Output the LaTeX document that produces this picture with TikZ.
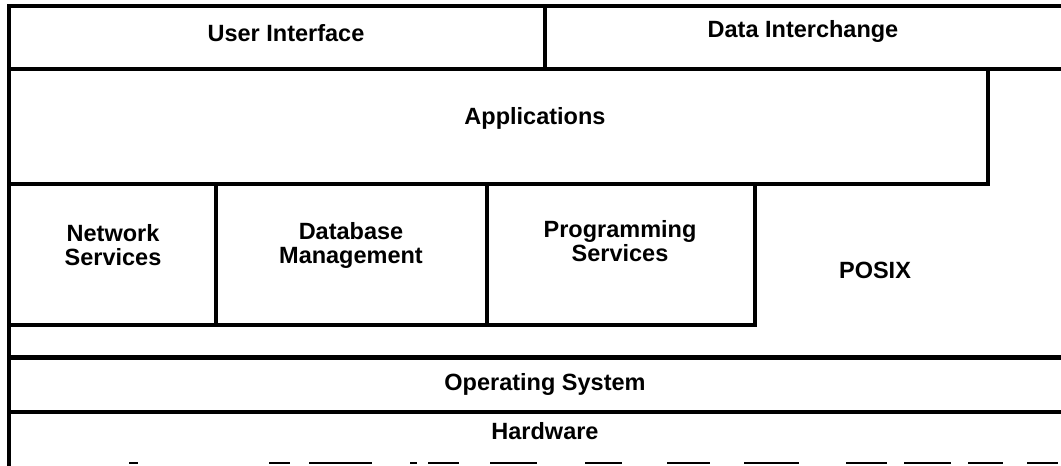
\documentclass[tikz,border=0pt]{standalone}
\usepackage{fontspec}
\setmainfont{Liberation Sans}
\begin{document}
\begin{tikzpicture}[x=1pt,y=-1pt,
  rule/.style={line width=3.2pt,line cap=rect},
  heavyrule/.style={line width=5pt,line cap=rect},
  label/.style={font=\fontsize{23.5}{24}\selectfont\bfseries,align=center,inner sep=0pt}]
\useasboundingbox (0,0) rectangle (1061,466);
% layer boundaries
\coordinate (tl) at (9,6);
\draw[rule] (tl) -- (1061,6);
\draw[rule] (9,6) -- (9,466);
\draw[rule] (545,6) -- (545,69);
\draw[rule] (9,69) -- (1061,69);
% applications box
\draw[rule] (9,184) -- (988,184) -- (988,69);
% service boxes
\draw[rule] (216,184) -- (216,325);
\draw[rule] (487,184) -- (487,325);
\draw[rule] (9,325) -- (755,325) -- (755,184);
% operating system and hardware
\draw[heavyrule] (9,357) -- (1061,357);
\draw[rule] (9,412) -- (1061,412);
% broken bottom edge
\foreach \a/\b in {129/138,269/290,309/372,410/417,428/459,490/537,585/622,667/710,744/799,846/887,904/951,968/1003,1027/1058}
  \draw[line width=2.5pt] (\a,463) -- (\b,463);
% labels
\node[label] (ui) at (286,33) {User Interface};
\node[label] (di) at (803,31) {Data Interchange};
\node[label] (app) at (535,118) {Applications};
\node[label] (net) at (113,245) {Network\\Services};
\node[label] (db) at (351,245) {Database\\Management};
\node[label] (prog) at (620,241) {Programming\\Services};
\node[label] (posix) at (875,270) {POSIX};
\node[label] (os) at (545,384) {Operating System};
\node[label] (hw) at (545,431) {Hardware};
\end{tikzpicture}
\end{document}
